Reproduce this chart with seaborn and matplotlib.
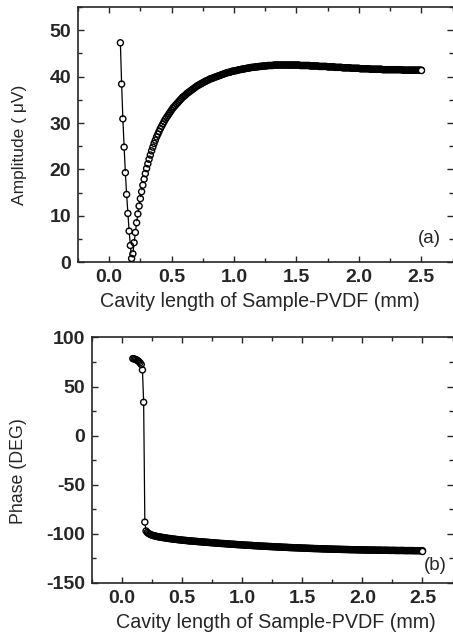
import numpy as np
import pandas as pd
import seaborn as sns
from matplotlib import pyplot as plt
from matplotlib.ticker import MultipleLocator

# cavity length (mm), sampled every 0.01 mm from 0.09 to 2.50
cavity_mm = [
    0.09, 0.10, 0.11, 0.12, 0.13, 0.14, 0.15, 0.16, 0.17, 0.18,
    0.19, 0.20, 0.21, 0.22, 0.23, 0.24, 0.25, 0.26, 0.27, 0.28,
    0.29, 0.30, 0.31, 0.32, 0.33, 0.34, 0.35, 0.36, 0.37, 0.38,
    0.39, 0.40, 0.41, 0.42, 0.43, 0.44, 0.45, 0.46, 0.47, 0.48,
    0.49, 0.50, 0.51, 0.52, 0.53, 0.54, 0.55, 0.56, 0.57, 0.58,
    0.59, 0.60, 0.61, 0.62, 0.63, 0.64, 0.65, 0.66, 0.67, 0.68,
    0.69, 0.70, 0.71, 0.72, 0.73, 0.74, 0.75, 0.76, 0.77, 0.78,
    0.79, 0.80, 0.81, 0.82, 0.83, 0.84, 0.85, 0.86, 0.87, 0.88,
    0.89, 0.90, 0.91, 0.92, 0.93, 0.94, 0.95, 0.96, 0.97, 0.98,
    0.99, 1.00, 1.01, 1.02, 1.03, 1.04, 1.05, 1.06, 1.07, 1.08,
    1.09, 1.10, 1.11, 1.12, 1.13, 1.14, 1.15, 1.16, 1.17, 1.18,
    1.19, 1.20, 1.21, 1.22, 1.23, 1.24, 1.25, 1.26, 1.27, 1.28,
    1.29, 1.30, 1.31, 1.32, 1.33, 1.34, 1.35, 1.36, 1.37, 1.38,
    1.39, 1.40, 1.41, 1.42, 1.43, 1.44, 1.45, 1.46, 1.47, 1.48,
    1.49, 1.50, 1.51, 1.52, 1.53, 1.54, 1.55, 1.56, 1.57, 1.58,
    1.59, 1.60, 1.61, 1.62, 1.63, 1.64, 1.65, 1.66, 1.67, 1.68,
    1.69, 1.70, 1.71, 1.72, 1.73, 1.74, 1.75, 1.76, 1.77, 1.78,
    1.79, 1.80, 1.81, 1.82, 1.83, 1.84, 1.85, 1.86, 1.87, 1.88,
    1.89, 1.90, 1.91, 1.92, 1.93, 1.94, 1.95, 1.96, 1.97, 1.98,
    1.99, 2.00, 2.01, 2.02, 2.03, 2.04, 2.05, 2.06, 2.07, 2.08,
    2.09, 2.10, 2.11, 2.12, 2.13, 2.14, 2.15, 2.16, 2.17, 2.18,
    2.19, 2.20, 2.21, 2.22, 2.23, 2.24, 2.25, 2.26, 2.27, 2.28,
    2.29, 2.30, 2.31, 2.32, 2.33, 2.34, 2.35, 2.36, 2.37, 2.38,
    2.39, 2.40, 2.41, 2.42, 2.43, 2.44, 2.45, 2.46, 2.47, 2.48,
    2.49, 2.50,
]

# amplitude (uV)
amplitude = [
    47.3, 38.4, 30.9, 24.8, 19.3, 14.6, 10.5, 6.7, 3.6, 0.8,
    1.8, 4.2, 6.4, 8.5, 10.4, 12.1, 13.7, 15.2, 16.6, 17.9,
    19.1, 20.2, 21.2, 22.2, 23.1, 24.0, 24.8, 25.6, 26.3, 27.0,
    27.6, 28.2, 28.8, 29.3, 29.8, 30.3, 30.8, 31.2, 31.6, 32.0,
    32.4, 32.8, 33.2, 33.5, 33.8, 34.1, 34.4, 34.7, 35.0, 35.3,
    35.6, 35.8, 36.0, 36.3, 36.5, 36.7, 36.9, 37.1, 37.3, 37.5,
    37.7, 37.9, 38.1, 38.2, 38.4, 38.5, 38.7, 38.8, 39.0, 39.1,
    39.2, 39.4, 39.5, 39.6, 39.7, 39.8, 39.9, 40.0, 40.1, 40.2,
    40.3, 40.4, 40.5, 40.6, 40.7, 40.8, 40.9, 40.9, 41.0, 41.1,
    41.2, 41.2, 41.3, 41.3, 41.4, 41.5, 41.5, 41.6, 41.6, 41.7,
    41.7, 41.8, 41.8, 41.9, 41.9, 42.0, 42.0, 42.0, 42.1, 42.1,
    42.1, 42.2, 42.2, 42.2, 42.3, 42.3, 42.3, 42.3, 42.4, 42.4,
    42.4, 42.4, 42.4, 42.5, 42.5, 42.5, 42.5, 42.5, 42.5, 42.5,
    42.5, 42.5, 42.5, 42.5, 42.5, 42.5, 42.5, 42.5, 42.5, 42.5,
    42.5, 42.5, 42.5, 42.5, 42.4, 42.4, 42.4, 42.4, 42.4, 42.4,
    42.4, 42.4, 42.3, 42.3, 42.3, 42.3, 42.3, 42.3, 42.3, 42.2,
    42.2, 42.2, 42.2, 42.2, 42.2, 42.2, 42.1, 42.1, 42.1, 42.1,
    42.1, 42.1, 42.0, 42.0, 42.0, 42.0, 42.0, 42.0, 41.9, 41.9,
    41.9, 41.9, 41.9, 41.9, 41.9, 41.8, 41.8, 41.8, 41.8, 41.8,
    41.8, 41.8, 41.7, 41.7, 41.7, 41.7, 41.7, 41.7, 41.7, 41.7,
    41.6, 41.6, 41.6, 41.6, 41.6, 41.6, 41.6, 41.6, 41.6, 41.6,
    41.5, 41.5, 41.5, 41.5, 41.5, 41.5, 41.5, 41.5, 41.5, 41.5,
    41.5, 41.5, 41.5, 41.5, 41.5, 41.5, 41.4, 41.4, 41.4, 41.4,
    41.4, 41.4, 41.4, 41.4, 41.4, 41.4, 41.4, 41.4, 41.4, 41.4,
    41.4, 41.4,
]

# phase (deg)
phase = [
    78.5, 78.2, 77.8, 77.2, 76.5, 75.5, 74.2, 72.5, 67.0, 34.0,
    -88.0, -97.0, -98.5, -99.5, -100.2, -100.8, -101.3, -101.7, -102.0, -102.3,
    -102.6, -102.9, -103.1, -103.3, -103.5, -103.7, -103.9, -104.1, -104.3, -104.5,
    -104.7, -104.8, -105.0, -105.2, -105.3, -105.5, -105.6, -105.8, -105.9, -106.1,
    -106.2, -106.3, -106.5, -106.6, -106.7, -106.8, -107.0, -107.1, -107.2, -107.3,
    -107.4, -107.5, -107.6, -107.7, -107.8, -107.9, -108.0, -108.1, -108.2, -108.3,
    -108.4, -108.5, -108.6, -108.7, -108.8, -108.9, -109.0, -109.1, -109.2, -109.3,
    -109.4, -109.5, -109.6, -109.7, -109.8, -109.8, -109.9, -110.0, -110.1, -110.2,
    -110.3, -110.4, -110.5, -110.5, -110.6, -110.7, -110.8, -110.9, -111.0, -111.0,
    -111.1, -111.2, -111.3, -111.4, -111.4, -111.5, -111.6, -111.7, -111.7, -111.8,
    -111.9, -112.0, -112.0, -112.1, -112.2, -112.3, -112.3, -112.4, -112.5, -112.5,
    -112.6, -112.7, -112.7, -112.8, -112.9, -112.9, -113.0, -113.1, -113.1, -113.2,
    -113.3, -113.3, -113.4, -113.4, -113.5, -113.6, -113.6, -113.7, -113.7, -113.8,
    -113.9, -113.9, -114.0, -114.0, -114.1, -114.1, -114.2, -114.2, -114.3, -114.3,
    -114.4, -114.4, -114.5, -114.5, -114.6, -114.6, -114.7, -114.7, -114.8, -114.8,
    -114.9, -114.9, -115.0, -115.0, -115.0, -115.1, -115.1, -115.2, -115.2, -115.3,
    -115.3, -115.3, -115.4, -115.4, -115.5, -115.5, -115.5, -115.6, -115.6, -115.6,
    -115.7, -115.7, -115.7, -115.8, -115.8, -115.8, -115.9, -115.9, -115.9, -116.0,
    -116.0, -116.0, -116.1, -116.1, -116.1, -116.1, -116.2, -116.2, -116.2, -116.3,
    -116.3, -116.3, -116.3, -116.4, -116.4, -116.4, -116.4, -116.5, -116.5, -116.5,
    -116.5, -116.5, -116.6, -116.6, -116.6, -116.6, -116.6, -116.7, -116.7, -116.7,
    -116.7, -116.7, -116.7, -116.8, -116.8, -116.8, -116.8, -116.8, -116.8, -116.9,
    -116.9, -116.9, -116.9, -116.9, -116.9, -116.9, -117.0, -117.0, -117.0, -117.0,
    -117.0, -117.0, -117.0, -117.0, -117.1, -117.1, -117.1, -117.1, -117.1, -117.1,
    -117.1, -117.1,
]

xlabel = 'Cavity length of Sample-PVDF (mm)'
xtick_labels = ['0.0', '0.5', '1.0', '1.5', '2.0', '2.5']

sns.set_style("ticks")
plt.rcParams['font.family'] = ['Liberation Sans', 'DejaVu Sans']
plt.rcParams['axes.unicode_minus'] = False

df = pd.DataFrame({'x': cavity_mm, 'amp': amplitude, 'phase': phase})

fig = plt.figure(figsize=(4.53, 6.41), dpi=100)
ax1 = fig.add_axes([0.172, 0.591, 0.827, 0.398])
ax2 = fig.add_axes([0.203, 0.0905, 0.796, 0.383])


def draw_curve(ax, col):
    # line, then white discs (hide the line inside sparse circles),
    # then open rings on top so that dense runs merge into a solid band
    sns.lineplot(data=df, x='x', y=col, ax=ax, color='black', linewidth=0.9,
                 estimator=None, zorder=2)
    sns.scatterplot(data=df, x='x', y=col, ax=ax, s=12, color='white',
                    linewidth=0, zorder=3)
    sns.scatterplot(data=df, x='x', y=col, ax=ax, s=19, facecolor='none',
                    edgecolor='black', linewidth=1.0, zorder=4)
    # last sample stays an open circle at the end of the band
    sns.scatterplot(data=df.tail(1), x='x', y=col, ax=ax, s=19, color='white',
                    edgecolor='black', linewidth=1.0, zorder=5)


draw_curve(ax1, 'amp')
draw_curve(ax2, 'phase')

for ax in (ax1, ax2):
    ax.set_xlim(-0.25, 2.75)
    ax.set_xticks([0.0, 0.5, 1.0, 1.5, 2.0, 2.5])
    ax.set_xticklabels(xtick_labels, fontweight='bold')
    ax.xaxis.set_minor_locator(MultipleLocator(0.25))
    ax.tick_params(which='both', direction='in', top=True, right=True,
                   width=1.0, labelsize=14)
    ax.tick_params(which='major', length=4.5, pad=5)
    ax.tick_params(which='minor', length=3)
    ax.spines['right'].set_visible(False)
    for sp in ('left', 'bottom', 'top'):
        ax.spines[sp].set_linewidth(1.2)
    ax.set_xlabel(xlabel, fontsize=14.2)

ax1.set_ylim(0, 55)
ax1.set_yticks([0, 10, 20, 30, 40, 50])
ax1.set_yticklabels(['0', '10', '20', '30', '40', '50'], fontweight='bold')
ax1.yaxis.set_minor_locator(MultipleLocator(5))
ax1.set_ylabel('Amplitude ( \u03bcV)', fontsize=12.5)
ax1.yaxis.set_label_coords(-0.136, 0.46)
ax1.xaxis.set_label_coords(0.485, -0.115)
ax1.text(0.97, 0.092, '(a)', transform=ax1.transAxes, ha='right', va='center',
         fontsize=13.5)

ax2.set_ylim(-150, 100)
ax2.set_yticks([-150, -100, -50, 0, 50, 100])
ax2.set_yticklabels(['-150', '-100', '-50', '0', '50', '100'], fontweight='bold')
ax2.yaxis.set_minor_locator(MultipleLocator(25))
ax2.set_ylabel('Phase (DEG)', fontsize=12.8)
ax2.yaxis.set_label_coords(-0.18, 0.457)
ax2.xaxis.set_label_coords(0.51, -0.122)
ax2.text(0.985, 0.07, '(b)', transform=ax2.transAxes, ha='right', va='center',
         fontsize=13.5)

plt.savefig('out.png', dpi=100)
